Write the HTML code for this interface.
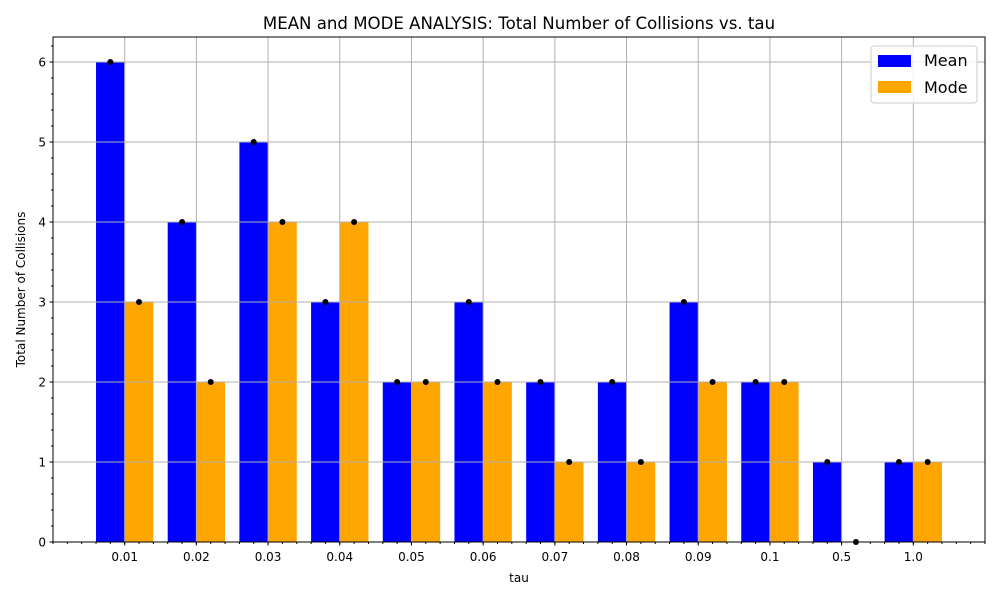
<!DOCTYPE html>
<html><head><meta charset="utf-8"><style>body{margin:0;background:#fff}svg{display:block;font-family:"DejaVu Sans","Liberation Sans",sans-serif}</style></head>
<body>
<svg id="c" width="1000" height="600"></svg>
<script>
const categories=["0.01","0.02","0.03","0.04","0.05","0.06","0.07","0.08","0.09","0.1","0.5","1.0"];
const meanValues=[6,4,5,3,2,3,2,2,3,2,1,1];
const modeValues=[3,2,4,4,2,2,1,1,2,2,0,1];
const yTicks=[0,1,2,3,4,5,6];
const L=53,R=985,T=37,B=542,yMax=6.3125;
const svg=document.getElementById('c');const NS='http://www.w3.org/2000/svg';
function X(i){return L+(i+1)/13*(R-L);}
function Y(v){return B-v/yMax*(B-T);}
const step=(R-L)/13,bw=step*0.4;
function mk(t,a,p){const e=document.createElementNS(NS,t);for(const k in a)e.setAttribute(k,a[k]);(p||svg).appendChild(e);return e;}
function txt(s,a){const e=mk('text',a);e.textContent=s;return e;}
categories.forEach((c,i)=>{
 const b1=mk('rect',{x:X(i)-bw,y:Y(meanValues[i]),width:bw,height:B-Y(meanValues[i]),fill:'#0000ff'});
 
 
 const b2=mk('rect',{x:X(i),y:Y(modeValues[i]),width:bw,height:B-Y(modeValues[i]),fill:'#ffa500'});
 
 
});
yTicks.forEach(v=>{const g=mk('line',{x1:L,x2:R,y1:Y(v),y2:Y(v),stroke:'#b0b0b0','stroke-width':1});});
categories.forEach((c,i)=>{const g=mk('line',{x1:X(i),x2:X(i),y1:T,y2:B,stroke:'#b0b0b0','stroke-width':1});});
categories.forEach((c,i)=>{
 const d1=mk('circle',{cx:X(i)-bw/2,cy:Y(meanValues[i]),r:3,fill:'#000'});
 
 
 const d2=mk('circle',{cx:X(i)+bw/2,cy:Y(modeValues[i]),r:3,fill:'#000'});
 
 
});
const fr=mk('rect',{x:L,y:T,width:R-L,height:B-T,fill:'none',stroke:'#000','stroke-width':1});

yTicks.forEach(v=>{mk('line',{x1:L-3.5,x2:L,y1:Y(v),y2:Y(v),stroke:'#000'});
 const t=txt(String(v),{x:L-7,y:Y(v)+4.5,'text-anchor':'end','font-size':12});});
for(let v=0;v<=yMax;v+=0.2){mk('line',{x1:L-2,x2:L,y1:Y(v),y2:Y(v),stroke:'#000'});}
categories.forEach((c,i)=>{mk('line',{x1:X(i),x2:X(i),y1:B,y2:B+3.5,stroke:'#000'});
 const t=txt(c,{x:X(i),y:B+19,'text-anchor':'middle','font-size':12});});
for(let k=-1;k<=12.001;k+=0.2){const x=X(k);mk('line',{x1:x,x2:x,y1:B,y2:B+2,stroke:'#000'});}
let t=txt('tau',{x:(L+R)/2,y:582,'text-anchor':'middle','font-size':12});
t=txt('Total Number of Collisions',{x:0,y:0,'text-anchor':'middle','font-size':12,transform:`translate(25,${(T+B)/2}) rotate(-90)`});
t=txt('MEAN and MODE ANALYSIS: Total Number of Collisions vs. tau',{x:(L+R)/2,y:29,'text-anchor':'middle','font-size':16.6});
const lg=mk('g',{});
mk('rect',{x:871,y:46,width:106,height:57,rx:3,fill:'#fff','fill-opacity':0.8,stroke:'#ccc'},lg);
mk('rect',{x:878,y:55,width:33,height:12,fill:'#0000ff'},lg);
mk('rect',{x:878,y:81,width:33,height:12,fill:'#ffa500'},lg);
const l1=mk('text',{x:924,y:66,'font-size':16},lg);l1.textContent='Mean';
const l2=mk('text',{x:924,y:93,'font-size':16},lg);l2.textContent='Mode';
</script>
</body></html>
